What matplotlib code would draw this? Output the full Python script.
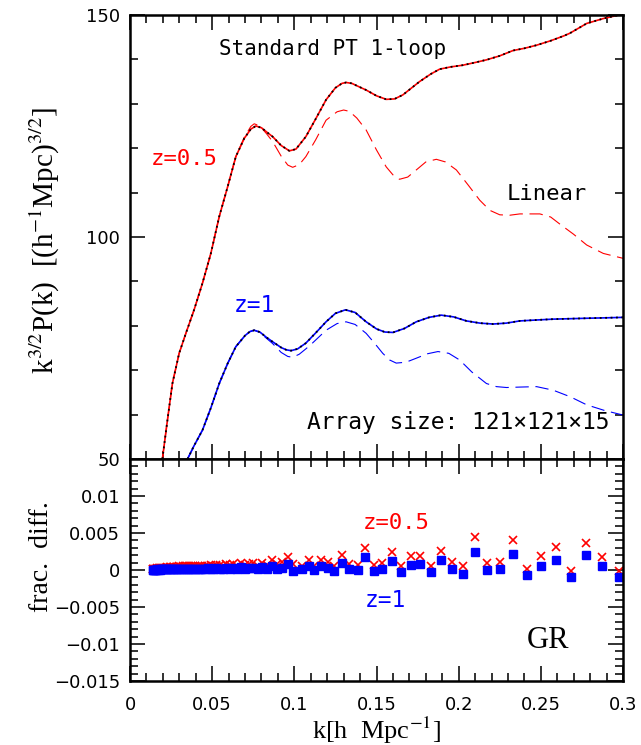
import matplotlib
matplotlib.use("Agg")
import matplotlib.pyplot as plt
from matplotlib.ticker import MultipleLocator, FixedLocator

plt.rcParams['mathtext.fontset'] = 'stix'

# ---------------- upper panel data: k^{3/2} P(k) ----------------
k_red = [0.0197, 0.0228, 0.0258, 0.0299, 0.0340, 0.0390, 0.0441, 0.0492, 0.0543, 0.0594,
         0.0644, 0.0695, 0.0735, 0.0766, 0.0800, 0.0840, 0.0868, 0.0920, 0.0970, 0.1010,
         0.1070, 0.1130, 0.1193, 0.1250, 0.1290, 0.1315, 0.1350, 0.1390, 0.1437, 0.1500,
         0.1559, 0.1610, 0.1660, 0.1762, 0.1830, 0.1884, 0.1950, 0.2026, 0.2100, 0.2169,
         0.2250, 0.2331, 0.2400, 0.2474, 0.2560, 0.2640, 0.2677, 0.2779, 0.2880, 0.3000]
pk_red = [50.0, 58.8, 67.0, 73.8, 78.3, 83.6, 89.6, 96.3, 104.6, 111.3,
          118.1, 122.2, 124.3, 125.0, 124.6, 123.4, 122.6, 120.6, 119.4, 119.8,
          122.6, 126.6, 130.9, 133.6, 134.6, 134.8, 134.6, 133.9, 133.1, 131.8,
          131.0, 131.1, 132.0, 135.0, 136.7, 137.8, 138.3, 138.7, 139.3, 139.9,
          140.8, 142.0, 142.5, 143.2, 144.2, 145.3, 145.9, 148.1, 149.2, 150.2]

k_red_lin = [0.0197, 0.0228, 0.0258, 0.0299, 0.0340, 0.0390, 0.0441, 0.0492, 0.0543, 0.0594,
             0.0644, 0.0695, 0.0735, 0.0756, 0.0790, 0.0830, 0.0868, 0.0920, 0.0960, 0.0990,
             0.1030, 0.1070, 0.1130, 0.1193, 0.1260, 0.1300, 0.1335, 0.1380, 0.1437, 0.1500,
             0.1559, 0.1600, 0.1640, 0.1690, 0.1742, 0.1800, 0.1864, 0.1920, 0.1986, 0.2060,
             0.2128, 0.2190, 0.2250, 0.2310, 0.2372, 0.2494, 0.2560, 0.2616, 0.2700, 0.2779,
             0.2880, 0.3000]
pk_red_lin = [50.0, 58.8, 67.0, 73.8, 78.3, 83.6, 89.6, 96.3, 104.6, 111.3,
              118.1, 122.4, 124.9, 125.5, 125.0, 123.3, 121.5, 118.2, 116.2, 115.7,
              116.3, 118.1, 121.9, 126.3, 128.2, 128.6, 128.3, 126.8, 124.1, 119.6,
              115.8, 114.0, 113.0, 113.5, 115.1, 116.9, 117.5, 116.9, 115.1, 111.6,
              108.3, 106.0, 105.0, 104.9, 105.2, 105.2, 104.5, 102.9, 100.6, 98.2,
              96.3, 95.2]

k_blue = [0.0350, 0.0390, 0.0441, 0.0492, 0.0543, 0.0594, 0.0644, 0.0700, 0.0730, 0.0756,
          0.0790, 0.0830, 0.0868, 0.0920, 0.0950, 0.0980, 0.1020, 0.1070, 0.1130, 0.1193,
          0.1250, 0.1311, 0.1370, 0.1437, 0.1500, 0.1550, 0.1600, 0.1670, 0.1742, 0.1820,
          0.1894, 0.1970, 0.2047, 0.2130, 0.2209, 0.2290, 0.2372, 0.2470, 0.2575, 0.2680,
          0.2779, 0.2900, 0.3000]
pk_blue = [50.0, 53.0, 56.5, 61.5, 67.0, 71.5, 75.3, 77.8, 78.7, 79.0,
           78.6, 77.4, 76.4, 75.1, 74.6, 74.4, 74.8, 76.1, 78.4, 80.9,
           82.8, 83.6, 83.0, 80.9, 79.3, 78.6, 78.5, 79.4, 80.9, 81.9,
           82.4, 82.0, 81.1, 80.6, 80.4, 80.6, 81.1, 81.3, 81.5, 81.6,
           81.7, 81.8, 81.9]

k_blue_lin = [0.0350, 0.0390, 0.0441, 0.0492, 0.0543, 0.0594, 0.0644, 0.0700, 0.0730, 0.0756,
              0.0790, 0.0830, 0.0868, 0.0920, 0.0960, 0.0990, 0.1030, 0.1070, 0.1110, 0.1193,
              0.1260, 0.1315, 0.1370, 0.1437, 0.1490, 0.1538, 0.1580, 0.1620, 0.1680, 0.1742,
              0.1810, 0.1874, 0.1940, 0.2006, 0.2080, 0.2169, 0.2230, 0.2291, 0.2374, 0.2474,
              0.2575, 0.2680, 0.2779, 0.2890, 0.3000]
pk_blue_lin = [50.0, 53.0, 56.5, 61.5, 67.0, 71.5, 75.3, 77.8, 78.7, 79.0,
               78.5, 77.2, 76.0, 74.0, 73.1, 72.9, 73.6, 74.8, 76.1, 79.0,
               80.5, 80.9, 80.3, 78.3, 76.0, 73.8, 72.3, 71.6, 71.8, 72.7,
               73.7, 74.2, 73.8, 72.3, 69.6, 67.0, 66.3, 66.1, 66.2, 66.3,
               65.5, 64.0, 62.2, 60.9, 59.9]

# ---------------- lower panel data: fractional difference ----------------
k_diff = [0.0137, 0.0142, 0.0147, 0.0153, 0.0158, 0.0164, 0.0170, 0.0176, 0.0182, 0.0189,
          0.0196, 0.0203, 0.0210, 0.0217, 0.0225, 0.0233, 0.0242, 0.0250, 0.0259, 0.0269,
          0.0279, 0.0288, 0.0299, 0.0310, 0.0321, 0.0332, 0.0344, 0.0357, 0.0369, 0.0383,
          0.0397, 0.0411, 0.0426, 0.0441, 0.0457, 0.0473, 0.0490, 0.0508, 0.0526, 0.0545,
          0.0565, 0.0585, 0.0606, 0.0628, 0.0651, 0.0674, 0.0698, 0.0723, 0.0749, 0.0776,
          0.0804, 0.0833, 0.0863, 0.0894, 0.0926, 0.0960, 0.0994,
          0.1045, 0.1087, 0.1122, 0.1163, 0.1203, 0.1244, 0.1291, 0.1335, 0.1386, 0.1431,
          0.1482, 0.1532, 0.1593, 0.1650, 0.1707, 0.1766, 0.1833, 0.1894, 0.1959, 0.2026,
          0.2098, 0.2173, 0.2254, 0.2331, 0.2416, 0.2498, 0.2590, 0.2683, 0.2774, 0.2874,
          0.2976]
diff_z05 = [0.0002, 0.0002, 0.0002, 0.0002, 0.0002, 0.0003, 0.0002, 0.0003, 0.0003, 0.0003,
            0.0003, 0.0003, 0.0003, 0.0003, 0.0004, 0.0003, 0.0004, 0.0004, 0.0004, 0.0004,
            0.0004, 0.0004, 0.0005, 0.0004, 0.0005, 0.0005, 0.0005, 0.0005, 0.0005, 0.0005,
            0.0006, 0.0005, 0.0006, 0.0006, 0.0006, 0.0006, 0.0007, 0.0006, 0.0007, 0.0007,
            0.0006, 0.0008, 0.0007, 0.0008, 0.0006, 0.0009, 0.0007, 0.0008, 0.0010, 0.0006,
            0.0010, 0.0007, 0.0013, 0.0008, 0.0011, 0.0017, 0.0008,
            0.0006, 0.0014, 0.0006, 0.0014, 0.0011, 0.0005, 0.0020, 0.0008, 0.0007, 0.0030,
            0.0007, 0.0010, 0.0024, 0.0005, 0.0019, 0.0019, 0.0006, 0.0026, 0.0011, 0.0006,
            0.0044, 0.0009, 0.0011, 0.0041, 0.0001, 0.0019, 0.0031, -0.0002, 0.0037, 0.0017,
            -0.0001]
diff_z1 = [0.0000, 0.0000, 0.0000, 0.0000, 0.0000, 0.0001, 0.0000, 0.0001, 0.0000, 0.0001,
           0.0001, 0.0001, 0.0001, 0.0001, 0.0001, 0.0001, 0.0001, 0.0001, 0.0001, 0.0001,
           0.0001, 0.0001, 0.0002, 0.0001, 0.0002, 0.0001, 0.0002, 0.0002, 0.0002, 0.0002,
           0.0002, 0.0002, 0.0002, 0.0002, 0.0002, 0.0003, 0.0002, 0.0002, 0.0003, 0.0002,
           0.0002, 0.0003, 0.0002, 0.0003, 0.0002, 0.0004, 0.0002, 0.0003, 0.0003, 0.0001,
           0.0004, 0.0002, 0.0006, 0.0002, 0.0003, 0.0008, -0.0001,
           0.0001, 0.0005, 0.0000, 0.0005, 0.0003, -0.0002, 0.0009, 0.0001, 0.0000, 0.0017,
           -0.0001, 0.0001, 0.0012, -0.0003, 0.0007, 0.0008, -0.0003, 0.0013, 0.0001, -0.0005,
           0.0024, 0.0000, 0.0001, 0.0022, -0.0007, 0.0006, 0.0014, -0.0010, 0.0020, 0.0005,
           -0.0010]

xticks = [0, 0.05, 0.1, 0.15, 0.2, 0.25, 0.3]
xtick_labels = ['0', '0.05', '0.1', '0.15', '0.2', '0.25', '0.3']
yticks_top = [50, 100, 150]
yticks_bot = [-0.015, -0.01, -0.005, 0, 0.005, 0.01]
ytick_bot_labels = ['\u22120.015', '\u22120.01', '\u22120.005', '0', '0.005', '0.01']

RED = '#ff0000'
BLUE = '#0000ff'
TICKFONT = 'DejaVu Sans'
INFONT = 'DejaVu Sans Mono'
SERIF = 'Liberation Serif'

W, H = 641, 745
fig = plt.figure(figsize=(W / 100, H / 100), dpi=100)
L, R = 130 / W, 623 / W
ax1 = fig.add_axes([L, 1 - 459 / H, R - L, (459 - 15) / H])
ax2 = fig.add_axes([L, 1 - 681 / H, R - L, (681 - 459) / H])

for ax in (ax1, ax2):
    for s in ax.spines.values():
        s.set_linewidth(1.8)
    ax.set_xlim(0, 0.3)
    ax.xaxis.set_major_locator(FixedLocator(xticks))
    ax.xaxis.set_minor_locator(MultipleLocator(0.01))
    ax.tick_params(which='both', direction='in', top=True, right=True, width=1.3, colors='#222222')
    ax.tick_params(which='major', length=11)
    ax.tick_params(which='minor', length=5.5)
    ax.tick_params(labelsize=13, pad=7, labelcolor='black')

# upper panel
ax1.plot(k_red_lin, pk_red_lin, color=RED, lw=0.8, dashes=(12, 6))
ax1.plot(k_blue_lin, pk_blue_lin, color=BLUE, lw=0.8, dashes=(12, 6))
ax1.plot(k_red, pk_red, color=RED, lw=1.2)
ax1.plot(k_blue, pk_blue, color=BLUE, lw=1.2)
ax1.plot(k_red, pk_red, color='black', lw=1.3, ls=(0, (1, 2)))
ax1.plot(k_blue, pk_blue, color='black', lw=1.3, ls=(0, (1, 2)))
ax1.set_ylim(50, 150)
ax1.yaxis.set_major_locator(FixedLocator(yticks_top))
ax1.yaxis.set_minor_locator(MultipleLocator(10))
ax1.set_xticklabels([])
ax1.set_yticklabels([str(v) for v in yticks_top], fontfamily=TICKFONT)

ax1.text(0.0543, 142.3, 'Standard PT 1-loop', fontsize=15, fontfamily=INFONT, va='center', ha='left')
ax1.text(0.0128, 117.6, 'z=0.5', fontsize=16, color=RED, fontfamily=INFONT, va='center', ha='left')
ax1.text(0.0634, 84.5, 'z=1', fontsize=16.5, color=BLUE, fontfamily=INFONT, va='center', ha='left')
ax1.text(0.2293, 109.7, 'Linear', fontsize=16, fontfamily=INFONT, va='center', ha='left')
ax1.text(0.2915, 58.3, 'Array size: 121\u00d7121\u00d715', fontsize=16.5, fontfamily=INFONT,
         va='center', ha='right')

# lower panel
ax2.plot(k_diff, diff_z05, ls='none', marker='x', ms=6, mew=1.2, color=RED)
ax2.plot(k_diff, diff_z1, ls='none', marker='s', ms=6.2, color=BLUE, mec=BLUE)
ax2.set_ylim(-0.015, 0.015)
ax2.yaxis.set_major_locator(FixedLocator(yticks_bot))
ax2.yaxis.set_minor_locator(MultipleLocator(0.001))
ax2.set_xticklabels(xtick_labels, fontfamily=TICKFONT)
ax2.set_yticklabels(ytick_bot_labels, fontfamily=TICKFONT)
ax2.tick_params(axis='x', pad=11)

ax2.text(0.1414, 0.0063, 'z=0.5', fontsize=16, color=RED, fontfamily=INFONT, va='center', ha='left')
ax2.text(0.1426, -0.0041, 'z=1', fontsize=16.5, color=BLUE, fontfamily=INFONT, va='center', ha='left')
ax2.text(0.2415, -0.0095, 'GR', fontsize=22, fontfamily=SERIF, va='center', ha='left')

fig.text(45 / W, 1 - 240 / H, r'k$^{3/2}$P(k)  [(h$^{-1}$Mpc)$^{3/2}$]', rotation=90,
         fontsize=21, fontfamily=SERIF, va='center', ha='center')
fig.text(42 / W, 1 - 557 / H, 'frac.  diff.', rotation=90,
         fontsize=20, fontfamily=SERIF, va='center', ha='center')
fig.text((L + R) / 2, 1 - 730 / H, r'k[h  Mpc$^{-1}$]', fontsize=19,
         fontfamily=SERIF, va='center', ha='center')

fig.savefig('out.png', dpi=100)
